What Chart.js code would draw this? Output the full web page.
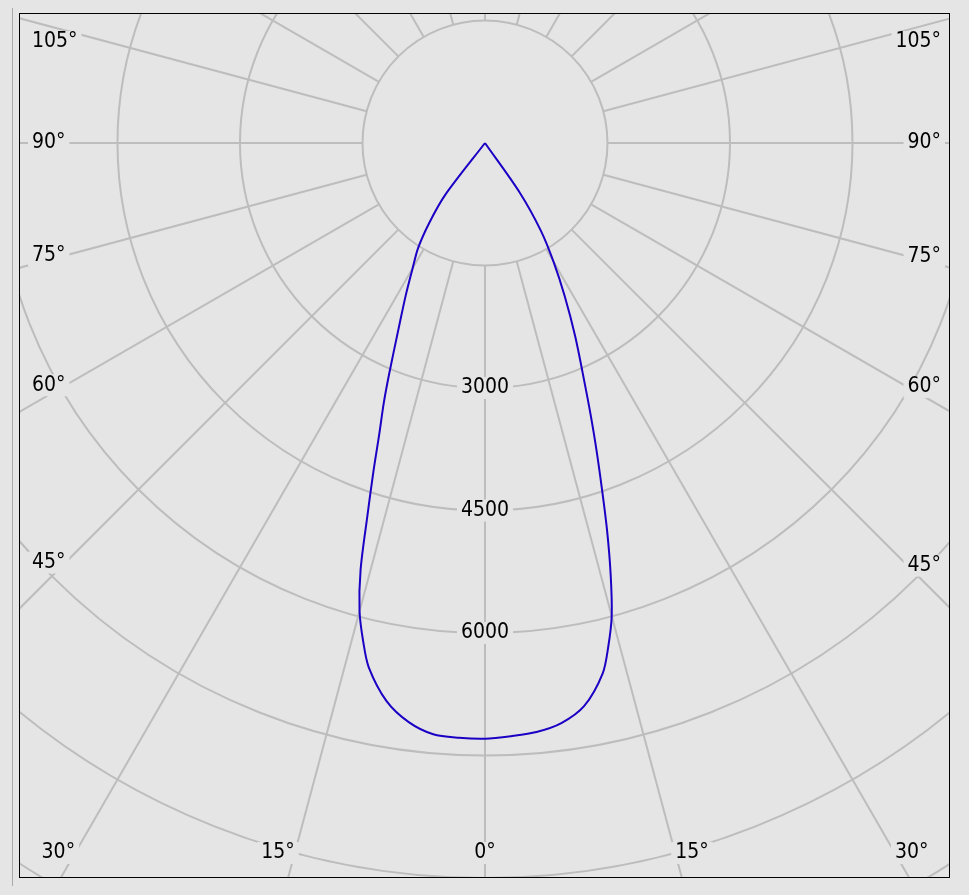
<!DOCTYPE html>
<html>
<head>
<meta charset="utf-8">
<script src="https://cdn.jsdelivr.net/npm/chart.js@4.4.1/dist/chart.umd.min.js"></script>
<style>
  html, body { margin: 0; padding: 0; background: #e5e5e5; }
  body { width: 969px; height: 895px; position: relative; overflow: hidden; }
  #edge { position: absolute; left: 12px; top: 8px; width: 1px; height: 878px; background: #a9a9a9; }
  #wrap { position: absolute; left: 19px; top: 13px; width: 931px; height: 865px; }
</style>
</head>
<body>
<div id="edge"></div>
<div id="wrap"><canvas id="polarChart" width="931" height="865"></canvas></div>
<script>
// 角度（从正下方 0° 起算）和光强 cd
const angles = [0, 2.5, 5, 7.5, 10, 12.5, 13.75, 15, 16.25, 17.5, 18.75, 20, 21.25, 22.5, 25, 27.5, 30, 32.5, 35, 37.5, 40];
const leftIntensity  = [7295, 7290, 7268, 7153, 6940, 6576, 6278, 5935, 5444, 4790, 4252, 3780, 3423, 3072, 2500, 2100, 1772, 1525, 1180, 800, 0];
const rightIntensity = [7295, 7270, 7240, 7165, 7000, 6655, 6350, 5995, 5498, 4970, 4443, 3985, 3568, 3195, 2615, 2115, 1680, 1275, 750, 0, 0];

// 网格
const ringValues = [1500, 3000, 4500, 6000, 7500, 9000, 10500, 12000, 13500];
const ringLabels = [3000, 4500, 6000];
const angleLabels = [0, 15, 30, 45, 60, 75, 90, 105];
const spokeStep = 15;

const BG = '#e5e5e5';
const GRID = '#bdbdbd';
const FONT = '21px "DejaVu Sans Condensed", "Liberation Sans", sans-serif';

const rad = a => a * Math.PI / 180;

// 极坐标 -> 直角坐标
function toXY(angle, value, side) {
    return { x: side * value * Math.sin(rad(angle)), y: -value * Math.cos(rad(angle)) };
}

const points = [];
for (let i = angles.length - 1; i >= 0; i--) points.push(toXY(angles[i], leftIntensity[i], -1));
for (let i = 1; i < angles.length; i++) points.push(toXY(angles[i], rightIntensity[i], 1));

function labelBox(ctx, text, x, y, align) {
    const w = ctx.measureText(text).width;
    let left = x;
    if (align === 'center') left = x - w / 2;
    if (align === 'right') left = x - w;
    ctx.fillStyle = BG;
    ctx.fillRect(left - 4, y - 11, w + 8, 22);
    ctx.fillStyle = '#000';
    ctx.textAlign = align;
    ctx.fillText(text, x, y);
}

const polarGrid = {
    id: 'polarGrid',
    beforeDatasetsDraw(chart) {
        const ctx = chart.ctx;
        const area = chart.chartArea;
        const xs = chart.scales.x, ys = chart.scales.y;
        const cx = xs.getPixelForValue(0), cy = ys.getPixelForValue(0);
        const rpx = v => xs.getPixelForValue(v) - cx;

        ctx.save();
        ctx.fillStyle = BG;
        ctx.fillRect(area.left, area.top, area.right - area.left, area.bottom - area.top);
        ctx.beginPath();
        ctx.rect(area.left, area.top, area.right - area.left, area.bottom - area.top);
        ctx.clip();

        ctx.strokeStyle = GRID;
        ctx.lineWidth = 2;
        // 圆环
        ringValues.forEach(v => {
            ctx.beginPath();
            ctx.arc(cx, cy, rpx(v), 0, Math.PI * 2);
            ctx.stroke();
        });
        // 径向线
        const r0 = rpx(ringValues[0]);
        const r1 = rpx(ringValues[ringValues.length - 1]);
        for (let a = 0; a < 360; a += spokeStep) {
            const s = Math.sin(rad(a)), c = Math.cos(rad(a));
            ctx.beginPath();
            ctx.moveTo(cx + s * r0, cy + c * r0);
            ctx.lineTo(cx + s * r1, cy + c * r1);
            ctx.stroke();
        }

        ctx.font = FONT;
        ctx.textBaseline = 'middle';
        // 光强标签
        ringLabels.forEach(v => labelBox(ctx, String(v), cx, cy + rpx(v), 'center'));

        // 角度标签
        const yBottom = area.bottom - 25;
        const yTop = area.top + 29;
        const xLeft = area.left + 13;
        const xRight = area.right - 9;
        angleLabels.forEach(a => {
            const text = a + '°';
            const w = ctx.measureText(text).width;
            if (a === 0) {
                labelBox(ctx, text, cx, yBottom, 'center');
                return;
            }
            [-1, 1].forEach(side => {
                if (a < 90) {
                    const sx = cx + side * (yBottom - cy) * Math.tan(rad(a));
                    const fits = side < 0 ? sx - w >= xLeft : sx + w <= xRight;
                    if (fits) {
                        labelBox(ctx, text, sx, yBottom, side < 0 ? 'right' : 'left');
                        return;
                    }
                }
                const edgeX = side < 0 ? xLeft + w : xRight - w;
                let y = cy + Math.abs(cx - edgeX) * Math.cos(rad(a)) / Math.sin(rad(a));
                y = Math.min(Math.max(y, yTop), yBottom);
                if (side < 0) labelBox(ctx, text, xLeft, y, 'left');
                else labelBox(ctx, text, xRight, y, 'right');
            });
        });
        ctx.restore();
    },
    afterDraw(chart) {
        const ctx = chart.ctx;
        const area = chart.chartArea;
        ctx.save();
        ctx.strokeStyle = '#000';
        ctx.lineWidth = 1;
        ctx.strokeRect(area.left + 0.5, area.top + 0.5, area.right - area.left - 1, area.bottom - area.top - 1);
        ctx.restore();
    }
};

const polarChart = new Chart(
    document.getElementById('polarChart'),
    {
        type: 'scatter',
        data: {
            datasets: [{
                data: points,
                showLine: true,
                borderColor: '#1a00c4',
                borderWidth: 2,
                pointRadius: 0,
                tension: 0.3,
                fill: false
            }]
        },
        options: {
            responsive: false,
            animation: false,
            layout: { padding: 0 },
            plugins: {
                legend: { display: false },
                tooltip: { enabled: false }
            },
            scales: {
                x: { type: 'linear', min: -5706, max: 5694, display: false },
                y: { type: 'linear', min: -9000, max: 1592, display: false }
            }
        },
        plugins: [polarGrid]
    }
);
</script>
</body>
</html>
